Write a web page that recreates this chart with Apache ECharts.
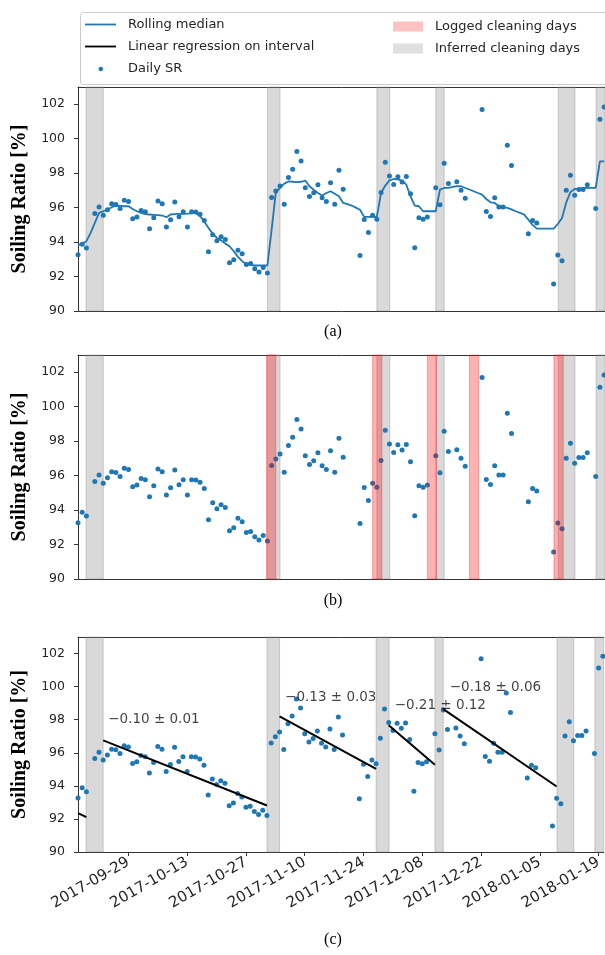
<!DOCTYPE html>
<html><head><meta charset="utf-8">
<script src="https://cdn.jsdelivr.net/npm/echarts@6/dist/echarts.min.js"></script>
<style>html,body{margin:0;padding:0;background:#fff}#c{width:605px;height:955px}</style>
</head><body><div id="c"></div>
<script>
// ---------------- data ----------------
const startDate = '2017-09-17';
const srDates = ['2017-09-17','2017-09-18','2017-09-19','2017-09-21','2017-09-22','2017-09-23','2017-09-24','2017-09-25','2017-09-26','2017-09-27','2017-09-28','2017-09-29','2017-09-30',
'2017-10-01','2017-10-02','2017-10-03','2017-10-04','2017-10-05','2017-10-06','2017-10-07','2017-10-08','2017-10-09','2017-10-10','2017-10-11','2017-10-12','2017-10-13','2017-10-14','2017-10-15','2017-10-16','2017-10-17','2017-10-18','2017-10-19','2017-10-20','2017-10-21','2017-10-22','2017-10-23','2017-10-24','2017-10-25','2017-10-26','2017-10-27','2017-10-28','2017-10-29','2017-10-30','2017-10-31',
'2017-11-01','2017-11-02','2017-11-03','2017-11-04','2017-11-05','2017-11-06','2017-11-07','2017-11-08','2017-11-09','2017-11-10','2017-11-11','2017-11-12','2017-11-13','2017-11-14','2017-11-15','2017-11-16','2017-11-17','2017-11-18','2017-11-19','2017-11-23','2017-11-24','2017-11-25','2017-11-26','2017-11-27','2017-11-28','2017-11-29','2017-11-30',
'2017-12-01','2017-12-02','2017-12-03','2017-12-04','2017-12-05','2017-12-06','2017-12-07','2017-12-08','2017-12-09','2017-12-11','2017-12-12','2017-12-13','2017-12-14','2017-12-16','2017-12-17','2017-12-18','2017-12-22','2017-12-23','2017-12-24','2017-12-25','2017-12-26','2017-12-27','2017-12-28','2017-12-29',
'2018-01-02','2018-01-03','2018-01-04','2018-01-08','2018-01-09','2018-01-10','2018-01-11','2018-01-12','2018-01-13','2018-01-14','2018-01-15','2018-01-16','2018-01-18','2018-01-19','2018-01-20'];
const srValues = [93.26,93.88,93.65,95.66,96.03,95.56,95.87,96.22,96.18,95.95,96.43,96.35,95.35,
95.45,95.83,95.76,94.77,95.41,96.38,96.22,94.87,95.29,96.33,95.47,95.76,94.87,95.76,95.74,95.62,95.25,93.44,94.42,94.08,94.31,94.15,92.80,92.97,93.53,93.32,92.70,92.76,92.45,92.26,92.53,
92.20,96.59,96.97,97.25,96.20,97.75,98.23,99.25,98.70,97.15,96.65,96.86,97.32,96.57,96.35,97.44,96.20,98.17,97.07,93.22,95.31,94.56,95.56,95.33,96.88,98.64,97.83,
97.34,97.79,97.48,97.80,96.80,93.67,95.41,95.33,95.45,97.15,96.16,98.58,97.40,97.50,97.01,96.55,101.69,95.78,95.49,96.57,96.03,96.03,99.62,98.44,
94.48,95.25,95.10,91.57,93.25,92.92,97.01,97.88,96.72,97.05,97.05,97.32,95.95,101.13,101.84];

// rolling median, one value per day from startDate
const medianValues = [93.81,93.91,94.05,94.53,95.11,95.69,95.79,95.88,96.02,96.12,96.10,96.08,96.08,95.92,95.79,95.69,95.62,95.60,95.58,95.56,95.54,95.44,95.60,95.62,95.64,95.64,95.65,95.67,95.69,95.50,
95.20,94.82,94.49,94.24,94.10,93.91,93.76,93.47,93.14,92.89,92.73,92.68,92.64,92.64,92.64,92.64,94.72,96.89,97.14,97.39,97.52,97.50,97.48,97.50,97.57,97.24,97.04,96.85,96.70,96.85,
96.95,96.80,96.66,96.27,96.20,96.12,96.00,95.88,95.46,95.46,95.46,95.46,96.85,97.28,97.58,97.66,97.64,97.57,97.33,96.66,96.12,96.08,95.79,95.79,95.79,95.79,97.04,97.14,97.14,97.20,
97.24,97.24,97.14,97.05,96.95,96.85,96.75,96.50,96.31,96.27,96.08,96.03,95.98,95.90,95.79,95.70,95.59,95.30,95.00,94.78,94.78,94.78,94.78,94.78,95.05,95.40,96.30,96.90,97.08,97.10,
97.14,97.14,97.14,97.14,98.68,98.68];

const greyBands = [['2017-09-18 22','2017-09-23 00'],['2017-11-01 00','2017-11-04 00'],['2017-11-27 00','2017-11-30 02'],['2017-12-11 00','2017-12-13 00'],['2018-01-09 02','2018-01-13 02'],['2018-01-18 02','2018-01-23 00']];
const redBands = [['2017-10-31 19','2017-11-03 00'],['2017-11-26 00','2017-11-28 05'],['2017-12-09 00','2017-12-11 05'],['2017-12-19 00','2017-12-21 05'],['2018-01-08 02','2018-01-10 07']];

const regStartDates = ['2017-09-17','2017-09-23','2017-11-04','2017-11-30','2017-12-13'];
const regEndDates   = ['2017-09-19','2017-11-01','2017-11-27','2017-12-11','2018-01-09'];
const regStartValues = [92.35,96.75,98.20,97.66,98.64];
const regEndValues   = [92.11,92.81,95.02,95.27,93.96];

const annotDates = ['2017-09-24 02','2017-11-05 05','2017-12-01 07','2017-12-14 10'];
const annotValues = [98.02,99.37,98.88,99.95];
const annotTexts = ['\u22120.10 \u00b1 0.01','\u22120.13 \u00b1 0.03','\u22120.21 \u00b1 0.12','\u22120.18 \u00b1 0.06'];

const xTickDates = ['2017-09-29','2017-10-13','2017-10-27','2017-11-10','2017-11-24','2017-12-08','2017-12-22','2018-01-05','2018-01-19'];
const xEndDate = '2018-01-20 05';
const yTicks = [90,92,94,96,98,100,102];
const captions = ['(a)','(b)','(c)'];

// ---------------- helpers ----------------
const DAY0 = (function(){const d=startDate.split('-').map(Number);return Date.UTC(d[0],d[1]-1,d[2]);})();
function dayOf(s){const p=s.split(' ');const d=p[0].split('-').map(Number);const h=p[1]?Number(p[1]):0;return (Date.UTC(d[0],d[1]-1,d[2],h)-DAY0)/86400000;}
function fmt(v){return new Date(DAY0+Math.round(v)*86400000).toISOString().slice(0,10);}

const srData = srDates.map((d,i)=>[dayOf(d),srValues[i]]);
const medianData = medianValues.map((v,i)=>[i,v]);
const xTicks = xTickDates.map(dayOf);
const xMax = dayOf(xEndDate);

const BLUE='#1f77b4';
const FONT='DejaVu Sans';
const SPINE='#333';
const grids=[{top:87,height:224},{top:355,height:224},{top:637,height:215}];

const xAxes=[];
grids.forEach((g,i)=>{
  xAxes.push({
    type:'value',gridIndex:i,min:0,max:xMax,position:'bottom',
    axisLine:{show:true,onZero:false,lineStyle:{color:SPINE,width:1}},splitLine:{show:false},
    axisTick:{show:i===2,customValues:xTicks,length:4,lineStyle:{color:SPINE}},
    axisLabel:{show:i===2,customValues:xTicks,rotate:30,margin:9,formatter:fmt,fontFamily:FONT,fontSize:15,color:'#262626'}
  });
  xAxes.push({
    type:'value',gridIndex:i,min:0,max:xMax,position:'top',
    axisLine:{show:true,onZero:false,lineStyle:{color:SPINE,width:1}},splitLine:{show:false},
    axisTick:{show:false},axisLabel:{show:false}
  });
});
const yAxes=grids.map((g,i)=>({
  type:'value',gridIndex:i,min:90,max:103,
  axisLine:{show:true,onZero:false,lineStyle:{color:SPINE,width:1}},splitLine:{show:false},
  axisTick:{customValues:yTicks,length:4,lineStyle:{color:SPINE}},
  axisLabel:{customValues:yTicks,margin:13,fontFamily:FONT,fontSize:12.5,color:'#262626'},
  name:'Soiling Ratio [%]',nameLocation:'middle',nameGap:37,
  nameTextStyle:{fontFamily:'Liberation Serif',fontWeight:'bold',fontSize:20,color:'#000'}
}));

const series=[];
const GREY='rgba(128,128,128,0.3)', RED='rgba(255,0,0,0.3)';
grids.forEach((g,i)=>{
  const xi=i*2;
  series.push({type:'scatter',name:'Inferred cleaning days',xAxisIndex:xi,yAxisIndex:i,data:[],z:1,
    itemStyle:{color:GREY},
    markArea:{silent:true,z:1,itemStyle:{color:GREY,borderColor:'rgba(128,128,128,0.35)',borderWidth:1},
      data:greyBands.map(b=>[{xAxis:dayOf(b[0])},{xAxis:Math.min(dayOf(b[1]),xMax)}])}});
  series.push({type:'scatter',name:'Daily SR',xAxisIndex:xi,yAxisIndex:i,data:srData,symbolSize:5,z:2,
    itemStyle:{color:BLUE,opacity:1}});
});
series.push({type:'scatter',name:'Logged cleaning days',xAxisIndex:2,yAxisIndex:1,data:[],z:4,
  itemStyle:{color:RED},
  markArea:{silent:true,z:4,itemStyle:{color:RED,borderColor:'rgba(255,0,0,0.3)',borderWidth:1},
    data:redBands.map(b=>[{xAxis:dayOf(b[0])},{xAxis:dayOf(b[1])}])}});
series.push({type:'line',name:'Rolling median',xAxisIndex:0,yAxisIndex:0,data:medianData,symbol:'none',z:3,
  lineStyle:{color:BLUE,width:1.8},itemStyle:{color:BLUE}});
regStartDates.forEach((d,k)=>{
  series.push({type:'line',name:'Linear regression on interval',xAxisIndex:4,yAxisIndex:2,symbol:'none',z:3,
    data:[[dayOf(d),regStartValues[k]],[dayOf(regEndDates[k]),regEndValues[k]]],
    lineStyle:{color:'#000',width:2},itemStyle:{color:'#000'}});
});
series.push({type:'scatter',name:'annot',xAxisIndex:4,yAxisIndex:2,symbolSize:1,z:5,
  itemStyle:{color:'rgba(0,0,0,0)'},
  data:annotDates.map((d,k)=>[dayOf(d),annotValues[k],annotTexts[k]]),
  label:{show:true,position:'right',distance:0,formatter:p=>p.data[2],fontFamily:FONT,fontSize:13.5,color:'#111'}});

// legend icons: invisible corner moves fix the icon box, the visible part is drawn inside it
const LINE_ICON='path://M0,0 M38,14 M0,6.1 L31,6.1 L31,7.9 L0,7.9 Z';
const DOT_ICON='path://M0,0 M38,14 M13.5,7 A2.3,2.3 0 1 1 18.1,7 A2.3,2.3 0 1 1 13.5,7 Z';
const PATCH_ICON='path://M0,0 M37,10 M0,0 L30,0 L30,10 L0,10 Z';
const legTS={fontFamily:FONT,fontSize:13,color:'#262626'};
const legBase={padding:0,selectedMode:false,textStyle:legTS,itemGap:0};
const legends=[
  Object.assign({},legBase,{data:[{name:'Rolling median',icon:LINE_ICON}],left:85,top:17.5,itemWidth:38,itemHeight:14}),
  Object.assign({},legBase,{data:[{name:'Linear regression on interval',icon:LINE_ICON}],left:85,top:39.5,itemWidth:38,itemHeight:14}),
  Object.assign({},legBase,{data:[{name:'Daily SR',icon:DOT_ICON}],left:85,top:62,itemWidth:38,itemHeight:14}),
  Object.assign({},legBase,{data:[{name:'Logged cleaning days',icon:PATCH_ICON}],left:393,top:20,itemWidth:37,itemHeight:10}),
  Object.assign({},legBase,{data:[{name:'Inferred cleaning days',icon:PATCH_ICON}],left:393,top:42,itemWidth:37,itemHeight:10})
];

const capY=[332,601,940];
const graphic=[{type:'rect',z:0,shape:{x:80.5,y:12.5,width:540,height:72,r:3},style:{fill:'#fff',stroke:'#cccccc',lineWidth:1}}]
  .concat(captions.map((c,i)=>({type:'text',x:333,y:capY[i],style:{text:c,font:'16px "Liberation Serif"',fill:'#000',textAlign:'center',textVerticalAlign:'middle'}})));

const chart=echarts.init(document.getElementById('c'),null,{renderer:'canvas'});
chart.setOption({
  animation:false,backgroundColor:'#fff',
  grid:grids.map(g=>({left:78,right:0,top:g.top,height:g.height,show:false})),
  xAxis:xAxes,yAxis:yAxes,series:series,legend:legends,graphic:graphic
});
</script></body></html>
